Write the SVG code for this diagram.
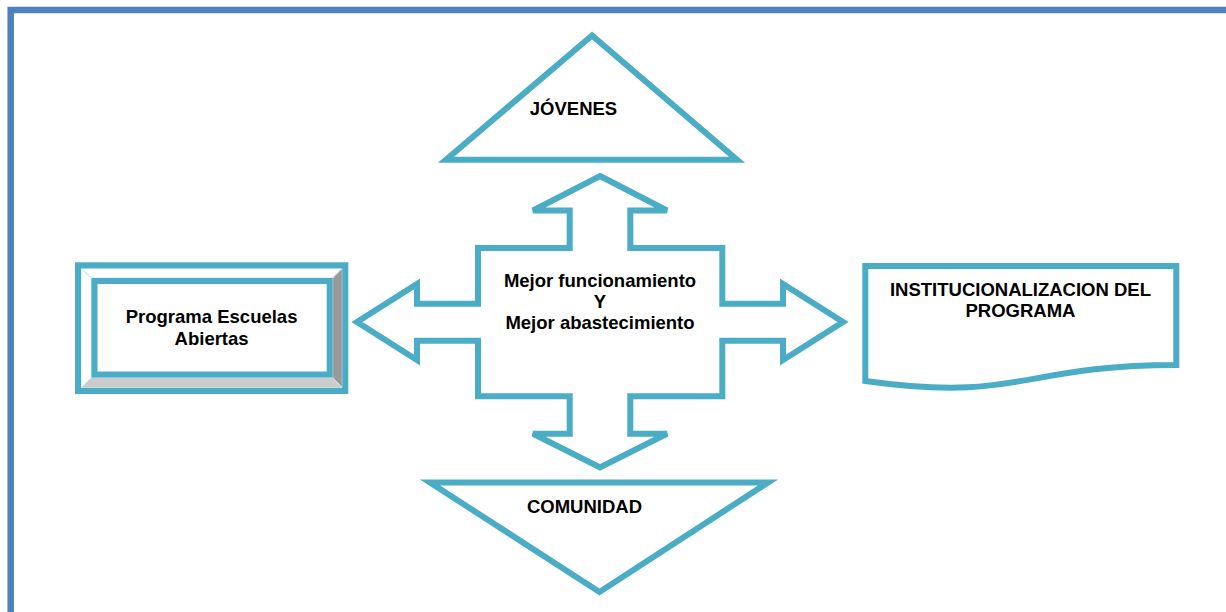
<svg xmlns="http://www.w3.org/2000/svg" width="1226" height="612" viewBox="0 0 1226 612">
<style>
.sh{fill:#ffffff;stroke:#4bacc6;stroke-width:6;stroke-linejoin:miter}
.t{font-family:"Liberation Sans",Arial,sans-serif;font-weight:bold;font-size:18.5px;fill:#000000;text-anchor:middle}
.bev{stroke:#c5e4ee;stroke-width:1}
</style>
<rect x="0" y="0" width="1226" height="612" fill="#ffffff"/>
<path d="M10.7,612 V10 H1226" fill="none" stroke="#4f81bd" stroke-width="6.5"/>
<g id="jovenes">
<polygon class="sh" points="592,35.5 446,159.7 737,159.7"/>
<text class="t" x="573.5" y="115">JÓVENES</text>
</g>
<g id="comunidad">
<polygon class="sh" points="430,482.5 768,482.5 599.5,592"/>
<text class="t" x="584.5" y="513">COMUNIDAD</text>
</g>
<g id="programa">
<rect x="78" y="265.3" width="267.3" height="125.7" fill="#ffffff"/>
<polygon class="bev" fill="#ffffff" points="81,268.3 342.3,268.3 332.7,278 91.5,278"/>
<polygon class="bev" fill="#ffffff" points="81,268.3 91.5,278 91.5,377.5 81,388"/>
<polygon class="bev" fill="#999999" points="342.3,268.3 342.3,388 332.7,377.5 332.7,278"/>
<polygon class="bev" fill="#cccccc" points="81,388 342.3,388 332.7,377.5 91.5,377.5"/>
<rect x="78" y="265.3" width="267.3" height="125.7" fill="none" stroke="#4bacc6" stroke-width="6"/>
<rect x="94.5" y="281" width="235.2" height="93.5" fill="#ffffff" stroke="#4bacc6" stroke-width="6"/>
<text class="t" x="211.6" y="323">Programa Escuelas</text>
<text class="t" x="211.6" y="345">Abiertas</text>
</g>
<g id="institucionalizacion">
<path class="sh" d="M865.3,266 H1176.3 V365 C1020.8,365 1020.8,402.7 865.3,381 Z"/>
<text class="t" x="1020.5" y="296">INSTITUCIONALIZACION DEL</text>
<text class="t" x="1020.5" y="317">PROGRAMA</text>
</g>
<g id="connectors">
<g id="centro">
<polygon class="sh" points="600,176 667,210.5 630.3,210.5 630.3,248 722.3,248 722.3,303.7 783,303.7 783,284 843,322 783,360 783,340.7 722.3,340.7 722.3,396.3 630.3,396.3 630.3,433.7 667,433.7 600,467.5 533,433.7 569.7,433.7 569.7,396.3 478,396.3 478,340.7 417,340.7 417,360 357,322 417,284 417,303.7 478,303.7 478,248 569.7,248 569.7,210.5 533,210.5"/>
<text class="t" x="600" y="287">Mejor funcionamiento</text>
<text class="t" x="600" y="308">Y</text>
<text class="t" x="600" y="329">Mejor abastecimiento</text>
</g>
</g>
</svg>
